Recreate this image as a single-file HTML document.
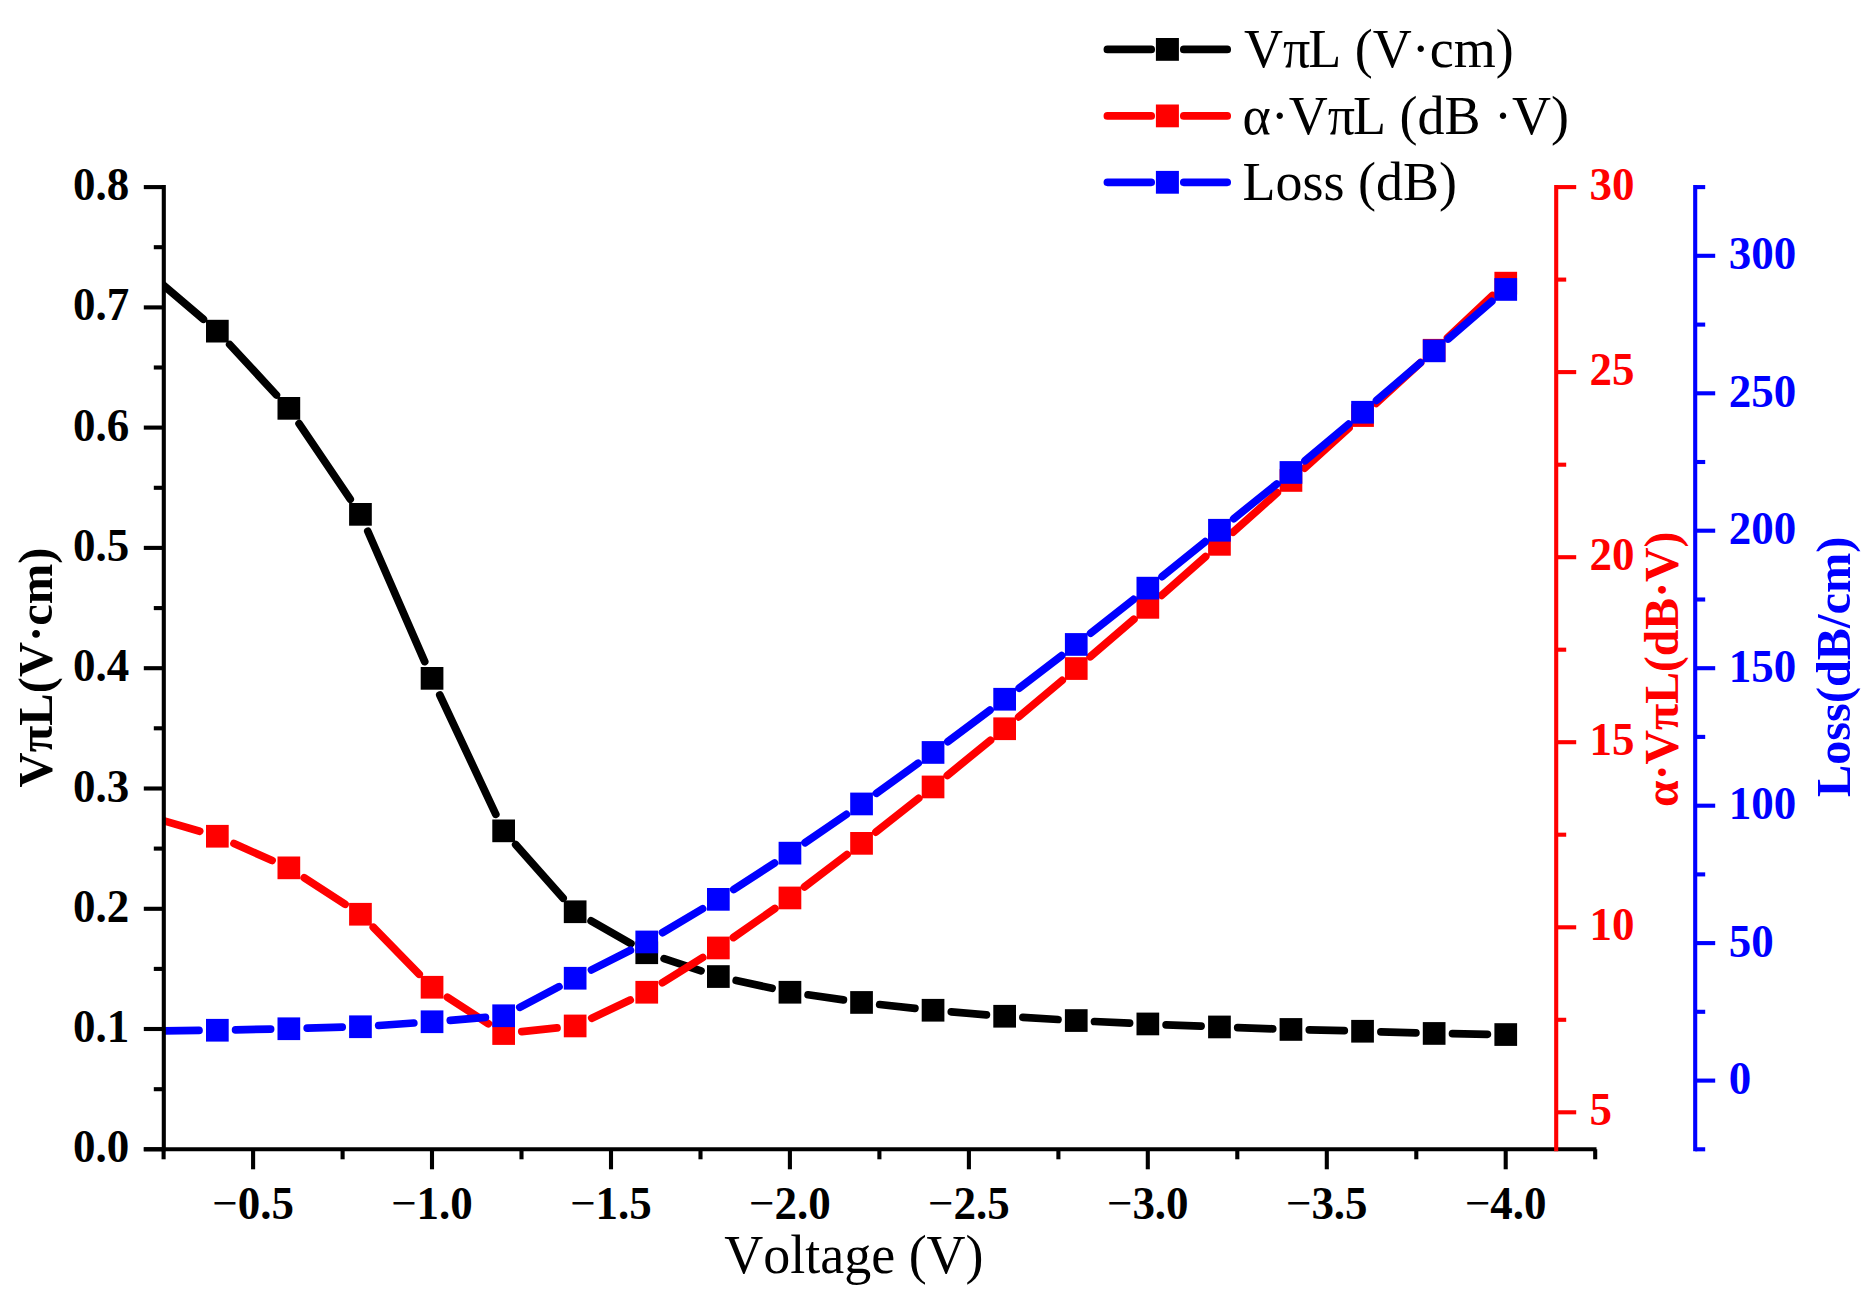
<!DOCTYPE html>
<html lang="en"><head><meta charset="utf-8"><title>VπL and Loss vs Voltage</title>
<style>html,body{margin:0;padding:0;background:#fff}svg{display:block}text{font-kerning:none}</style></head>
<body>
<svg width="1874" height="1301" viewBox="0 0 1874 1301">
<defs><clipPath id="plot"><rect x="163.8" y="100" width="1500" height="1100"/></clipPath></defs>
<rect width="1874" height="1301" fill="#fff"/>
<g id="s-black"><path d="M159.6 282.0L203.4 319.2M229.7 344.5L276.4 395.0M299.1 423.6L350.2 499.2M367.8 531.2L424.7 661.6M439.8 695.0L495.8 814.3M515.7 844.6L563.1 898.1M591.1 920.9L630.9 943.7M664.1 958.6L701.0 970.8M736.2 980.5L772.1 988.3M808.1 994.8L843.4 999.9M879.7 1004.5L914.9 1008.3M951.3 1011.8L986.4 1014.8M1022.9 1017.4L1058.0 1019.5M1094.5 1021.5L1129.6 1023.1M1166.1 1024.8L1201.1 1026.2M1237.7 1027.6L1272.7 1028.8M1309.3 1029.9L1344.3 1030.7M1380.9 1031.8L1415.9 1032.8M1452.5 1033.7L1487.4 1034.3" stroke="#000" stroke-width="7.7" stroke-linecap="round" fill="none" clip-path="url(#plot)"/>
<rect x="206.0" y="319.8" width="22.7" height="22.7" fill="#000"/>
<rect x="277.5" y="397.0" width="22.7" height="22.7" fill="#000"/>
<rect x="349.1" y="503.0" width="22.7" height="22.7" fill="#000"/>
<rect x="420.7" y="667.0" width="22.7" height="22.7" fill="#000"/>
<rect x="492.3" y="819.5" width="22.7" height="22.7" fill="#000"/>
<rect x="563.8" y="900.4" width="22.7" height="22.7" fill="#000"/>
<rect x="635.4" y="941.4" width="22.7" height="22.7" fill="#000"/>
<rect x="707.0" y="965.2" width="22.7" height="22.7" fill="#000"/>
<rect x="778.6" y="980.9" width="22.7" height="22.7" fill="#000"/>
<rect x="850.2" y="991.1" width="22.7" height="22.7" fill="#000"/>
<rect x="921.7" y="998.9" width="22.7" height="22.7" fill="#000"/>
<rect x="993.3" y="1004.9" width="22.7" height="22.7" fill="#000"/>
<rect x="1064.9" y="1009.2" width="22.7" height="22.7" fill="#000"/>
<rect x="1136.5" y="1012.6" width="22.7" height="22.7" fill="#000"/>
<rect x="1208.1" y="1015.6" width="22.7" height="22.7" fill="#000"/>
<rect x="1279.6" y="1018.1" width="22.7" height="22.7" fill="#000"/>
<rect x="1351.2" y="1019.9" width="22.7" height="22.7" fill="#000"/>
<rect x="1422.8" y="1022.1" width="22.7" height="22.7" fill="#000"/>
<rect x="1494.4" y="1023.2" width="22.7" height="22.7" fill="#000"/></g>
<g id="s-red"><path d="M163.3 820.7L199.7 831.2M234.0 843.6L272.1 860.5M304.2 877.8L345.1 904.3M373.3 927.3L419.2 974.2M447.4 997.2L488.3 1023.7M521.8 1031.7L557.0 1027.9M591.8 1018.2L630.2 1000.1M662.3 982.7L702.8 957.6M733.4 937.5L774.9 908.5M804.5 886.9L847.0 854.5M875.9 832.1L918.7 798.3M947.3 775.4L990.5 740.3M1018.7 716.9L1062.2 680.4M1090.2 656.7L1133.9 619.3M1161.6 595.3L1205.7 556.5M1233.1 532.2L1277.3 492.7M1304.6 468.2L1349.0 427.9M1376.1 403.3L1420.6 362.6M1447.5 337.8L1492.4 295.6" stroke="#f00" stroke-width="7.7" stroke-linecap="round" fill="none" clip-path="url(#plot)"/>
<rect x="206.0" y="824.9" width="22.7" height="22.7" fill="#f00"/>
<rect x="277.5" y="856.5" width="22.7" height="22.7" fill="#f00"/>
<rect x="349.1" y="902.9" width="22.7" height="22.7" fill="#f00"/>
<rect x="420.7" y="975.9" width="22.7" height="22.7" fill="#f00"/>
<rect x="492.3" y="1022.2" width="22.7" height="22.7" fill="#f00"/>
<rect x="563.8" y="1014.6" width="22.7" height="22.7" fill="#f00"/>
<rect x="635.4" y="980.9" width="22.7" height="22.7" fill="#f00"/>
<rect x="707.0" y="936.6" width="22.7" height="22.7" fill="#f00"/>
<rect x="778.6" y="886.6" width="22.7" height="22.7" fill="#f00"/>
<rect x="850.2" y="832.0" width="22.7" height="22.7" fill="#f00"/>
<rect x="921.7" y="775.6" width="22.7" height="22.7" fill="#f00"/>
<rect x="993.3" y="717.4" width="22.7" height="22.7" fill="#f00"/>
<rect x="1064.9" y="657.2" width="22.7" height="22.7" fill="#f00"/>
<rect x="1136.5" y="596.0" width="22.7" height="22.7" fill="#f00"/>
<rect x="1208.1" y="533.0" width="22.7" height="22.7" fill="#f00"/>
<rect x="1279.6" y="469.1" width="22.7" height="22.7" fill="#f00"/>
<rect x="1351.2" y="404.2" width="22.7" height="22.7" fill="#f00"/>
<rect x="1422.8" y="338.9" width="22.7" height="22.7" fill="#f00"/>
<rect x="1494.4" y="271.8" width="22.7" height="22.7" fill="#f00"/></g>
<g id="s-blue"><path d="M164.0 1030.8L199.0 1030.4M235.6 1029.8L270.6 1029.1M307.2 1028.2L342.2 1027.2M378.7 1025.5L413.8 1023.0M450.3 1020.3L485.4 1017.3M519.8 1007.3L559.0 986.7M591.5 969.9L630.4 950.3M662.5 932.6L702.6 908.8M733.7 889.5L774.6 863.0M805.0 842.7L846.4 814.4M876.4 793.3L918.2 763.2M947.8 741.6L990.0 710.1M1019.2 688.1L1061.7 655.6M1090.6 633.2L1133.5 599.4M1162.1 576.6L1205.2 541.7M1233.7 518.7L1276.8 484.0M1305.0 460.7L1348.6 424.1M1376.5 400.4L1420.3 362.8M1448.1 339.0L1491.8 301.4" stroke="#00f" stroke-width="7.7" stroke-linecap="round" fill="none" clip-path="url(#plot)"/>
<rect x="206.0" y="1018.9" width="22.7" height="22.7" fill="#00f"/>
<rect x="277.5" y="1017.4" width="22.7" height="22.7" fill="#00f"/>
<rect x="349.1" y="1015.4" width="22.7" height="22.7" fill="#00f"/>
<rect x="420.7" y="1010.4" width="22.7" height="22.7" fill="#00f"/>
<rect x="492.3" y="1004.4" width="22.7" height="22.7" fill="#00f"/>
<rect x="563.8" y="966.9" width="22.7" height="22.7" fill="#00f"/>
<rect x="635.4" y="930.6" width="22.7" height="22.7" fill="#00f"/>
<rect x="707.0" y="888.0" width="22.7" height="22.7" fill="#00f"/>
<rect x="778.6" y="841.8" width="22.7" height="22.7" fill="#00f"/>
<rect x="850.2" y="792.6" width="22.7" height="22.7" fill="#00f"/>
<rect x="921.7" y="741.1" width="22.7" height="22.7" fill="#00f"/>
<rect x="993.3" y="687.9" width="22.7" height="22.7" fill="#00f"/>
<rect x="1064.9" y="633.1" width="22.7" height="22.7" fill="#00f"/>
<rect x="1136.5" y="576.8" width="22.7" height="22.7" fill="#00f"/>
<rect x="1208.1" y="518.9" width="22.7" height="22.7" fill="#00f"/>
<rect x="1279.6" y="461.1" width="22.7" height="22.7" fill="#00f"/>
<rect x="1351.2" y="400.9" width="22.7" height="22.7" fill="#00f"/>
<rect x="1422.8" y="339.5" width="22.7" height="22.7" fill="#00f"/>
<rect x="1494.4" y="278.1" width="22.7" height="22.7" fill="#00f"/></g>
<g stroke="#000" stroke-width="4.1" fill="none">
<path d="M143.8 1149.3H1596.5"/>
<path d="M163.6 1149.3V1159.3"/>
<path d="M253.1 1149.3V1169.3"/>
<path d="M342.6 1149.3V1159.3"/>
<path d="M432.0 1149.3V1169.3"/>
<path d="M521.5 1149.3V1159.3"/>
<path d="M611.0 1149.3V1169.3"/>
<path d="M700.5 1149.3V1159.3"/>
<path d="M789.9 1149.3V1169.3"/>
<path d="M879.4 1149.3V1159.3"/>
<path d="M968.9 1149.3V1169.3"/>
<path d="M1058.4 1149.3V1159.3"/>
<path d="M1147.8 1149.3V1169.3"/>
<path d="M1237.3 1149.3V1159.3"/>
<path d="M1326.8 1149.3V1169.3"/>
<path d="M1416.3 1149.3V1159.3"/>
<path d="M1505.7 1149.3V1169.3"/>
<path d="M1595.2 1149.3V1159.3"/>
<path d="M163.8 185.0V1151.3"/>
<path d="M143.8 1149.3H163.8"/>
<path d="M153.8 1089.2H163.8"/>
<path d="M143.8 1029.0H163.8"/>
<path d="M153.8 968.9H163.8"/>
<path d="M143.8 908.8H163.8"/>
<path d="M153.8 848.6H163.8"/>
<path d="M143.8 788.5H163.8"/>
<path d="M153.8 728.3H163.8"/>
<path d="M143.8 668.2H163.8"/>
<path d="M153.8 608.1H163.8"/>
<path d="M143.8 547.9H163.8"/>
<path d="M153.8 487.8H163.8"/>
<path d="M143.8 427.6H163.8"/>
<path d="M153.8 367.5H163.8"/>
<path d="M143.8 307.4H163.8"/>
<path d="M153.8 247.2H163.8"/>
<path d="M143.8 187.1H163.8"/>
</g>
<g stroke="#f00" stroke-width="4.1" fill="none">
<path d="M1556.2 185.0V1151.3"/>
<path d="M1556.2 1112.3H1576.2"/>
<path d="M1556.2 1019.8H1566.2"/>
<path d="M1556.2 927.3H1576.2"/>
<path d="M1556.2 834.7H1566.2"/>
<path d="M1556.2 742.2H1576.2"/>
<path d="M1556.2 649.7H1566.2"/>
<path d="M1556.2 557.2H1576.2"/>
<path d="M1556.2 464.7H1566.2"/>
<path d="M1556.2 372.1H1576.2"/>
<path d="M1556.2 279.6H1566.2"/>
<path d="M1556.2 187.1H1576.2"/>
</g>
<g stroke="#00f" stroke-width="4.1" fill="none">
<path d="M1695.2 185.0V1151.3"/>
<path d="M1695.2 1149.3H1705.2"/>
<path d="M1695.2 1080.6H1715.2"/>
<path d="M1695.2 1011.8H1705.2"/>
<path d="M1695.2 943.1H1715.2"/>
<path d="M1695.2 874.4H1705.2"/>
<path d="M1695.2 805.7H1715.2"/>
<path d="M1695.2 736.9H1705.2"/>
<path d="M1695.2 668.2H1715.2"/>
<path d="M1695.2 599.5H1705.2"/>
<path d="M1695.2 530.7H1715.2"/>
<path d="M1695.2 462.0H1705.2"/>
<path d="M1695.2 393.3H1715.2"/>
<path d="M1695.2 324.6H1705.2"/>
<path d="M1695.2 255.8H1715.2"/>
<path d="M1695.2 187.1H1705.2"/>
</g>
<g font-family="'Liberation Serif', 'Times New Roman', serif" font-weight="bold" font-size="45">
<text transform="translate(129.2 1162.3) scale(1 1.04)" text-anchor="end">0.0</text>
<text transform="translate(129.2 1042.0) scale(1 1.04)" text-anchor="end">0.1</text>
<text transform="translate(129.2 921.8) scale(1 1.04)" text-anchor="end">0.2</text>
<text transform="translate(129.2 801.5) scale(1 1.04)" text-anchor="end">0.3</text>
<text transform="translate(129.2 681.2) scale(1 1.04)" text-anchor="end">0.4</text>
<text transform="translate(129.2 560.9) scale(1 1.04)" text-anchor="end">0.5</text>
<text transform="translate(129.2 440.6) scale(1 1.04)" text-anchor="end">0.6</text>
<text transform="translate(129.2 320.4) scale(1 1.04)" text-anchor="end">0.7</text>
<text transform="translate(129.2 200.1) scale(1 1.04)" text-anchor="end">0.8</text>
<text transform="translate(253.1 1218.5) scale(1 1.04)" text-anchor="middle"><tspan font-weight="normal">−</tspan>0.5</text>
<text transform="translate(432.0 1218.5) scale(1 1.04)" text-anchor="middle"><tspan font-weight="normal">−</tspan>1.0</text>
<text transform="translate(611.0 1218.5) scale(1 1.04)" text-anchor="middle"><tspan font-weight="normal">−</tspan>1.5</text>
<text transform="translate(789.9 1218.5) scale(1 1.04)" text-anchor="middle"><tspan font-weight="normal">−</tspan>2.0</text>
<text transform="translate(968.9 1218.5) scale(1 1.04)" text-anchor="middle"><tspan font-weight="normal">−</tspan>2.5</text>
<text transform="translate(1147.8 1218.5) scale(1 1.04)" text-anchor="middle"><tspan font-weight="normal">−</tspan>3.0</text>
<text transform="translate(1326.8 1218.5) scale(1 1.04)" text-anchor="middle"><tspan font-weight="normal">−</tspan>3.5</text>
<text transform="translate(1505.7 1218.5) scale(1 1.04)" text-anchor="middle"><tspan font-weight="normal">−</tspan>4.0</text>
<text transform="translate(1589.5 1125.4) scale(1 1.04)" fill="#f00">5</text>
<text transform="translate(1589.5 940.4) scale(1 1.04)" fill="#f00">10</text>
<text transform="translate(1589.5 755.3) scale(1 1.04)" fill="#f00">15</text>
<text transform="translate(1589.5 570.3) scale(1 1.04)" fill="#f00">20</text>
<text transform="translate(1589.5 385.2) scale(1 1.04)" fill="#f00">25</text>
<text transform="translate(1589.5 200.2) scale(1 1.04)" fill="#f00">30</text>
<text transform="translate(1728.7 1094.0) scale(1 1.04)" fill="#00f">0</text>
<text transform="translate(1728.7 956.5) scale(1 1.04)" fill="#00f">50</text>
<text transform="translate(1728.7 819.1) scale(1 1.04)" fill="#00f">100</text>
<text transform="translate(1728.7 681.6) scale(1 1.04)" fill="#00f">150</text>
<text transform="translate(1728.7 544.1) scale(1 1.04)" fill="#00f">200</text>
<text transform="translate(1728.7 406.7) scale(1 1.04)" fill="#00f">250</text>
<text transform="translate(1728.7 269.2) scale(1 1.04)" fill="#00f">300</text>
</g>
<g font-family="'Liberation Serif', 'Times New Roman', serif" font-weight="bold" font-size="48" text-anchor="middle">
<text transform="translate(51.9 667.5) rotate(-90)" font-size="48.6">VπL(V·cm)</text>
<text transform="translate(1678.4 669.3) rotate(-90)" fill="#f00" font-size="47.7">α·VπL(dB·V)</text>
<text transform="translate(1850.1 666.9) rotate(-90)" fill="#00f" font-size="48.3">Loss(dB/cm)</text>
</g>
<g font-family="'Liberation Serif', 'Times New Roman', serif" font-size="54">
<text x="853.9" y="1272.9" text-anchor="middle">Voltage (V)</text>
<text x="1244" y="67.3">Vπ<tspan dx="-2">L</tspan> (V·cm)</text>
<text x="1242.5" y="133.6">α·Vπ<tspan dx="-2">L</tspan> (dB ·V)</text>
<text x="1242.5" y="199.8">Loss (dB)</text>
</g>
<path d="M1107.4 49.4H1151.2M1183.8 49.4H1227.2" stroke="#000" stroke-width="7.7" stroke-linecap="round" fill="none"/>
<rect x="1155.9" y="38.0" width="23" height="22.8" fill="#000"/>
<path d="M1107.4 115.9H1151.2M1183.8 115.9H1227.2" stroke="#f00" stroke-width="7.7" stroke-linecap="round" fill="none"/>
<rect x="1155.9" y="104.5" width="23" height="22.8" fill="#f00"/>
<path d="M1107.4 182.3H1151.2M1183.8 182.3H1227.2" stroke="#00f" stroke-width="7.7" stroke-linecap="round" fill="none"/>
<rect x="1155.9" y="170.9" width="23" height="22.8" fill="#00f"/>
</svg>
</body></html>
